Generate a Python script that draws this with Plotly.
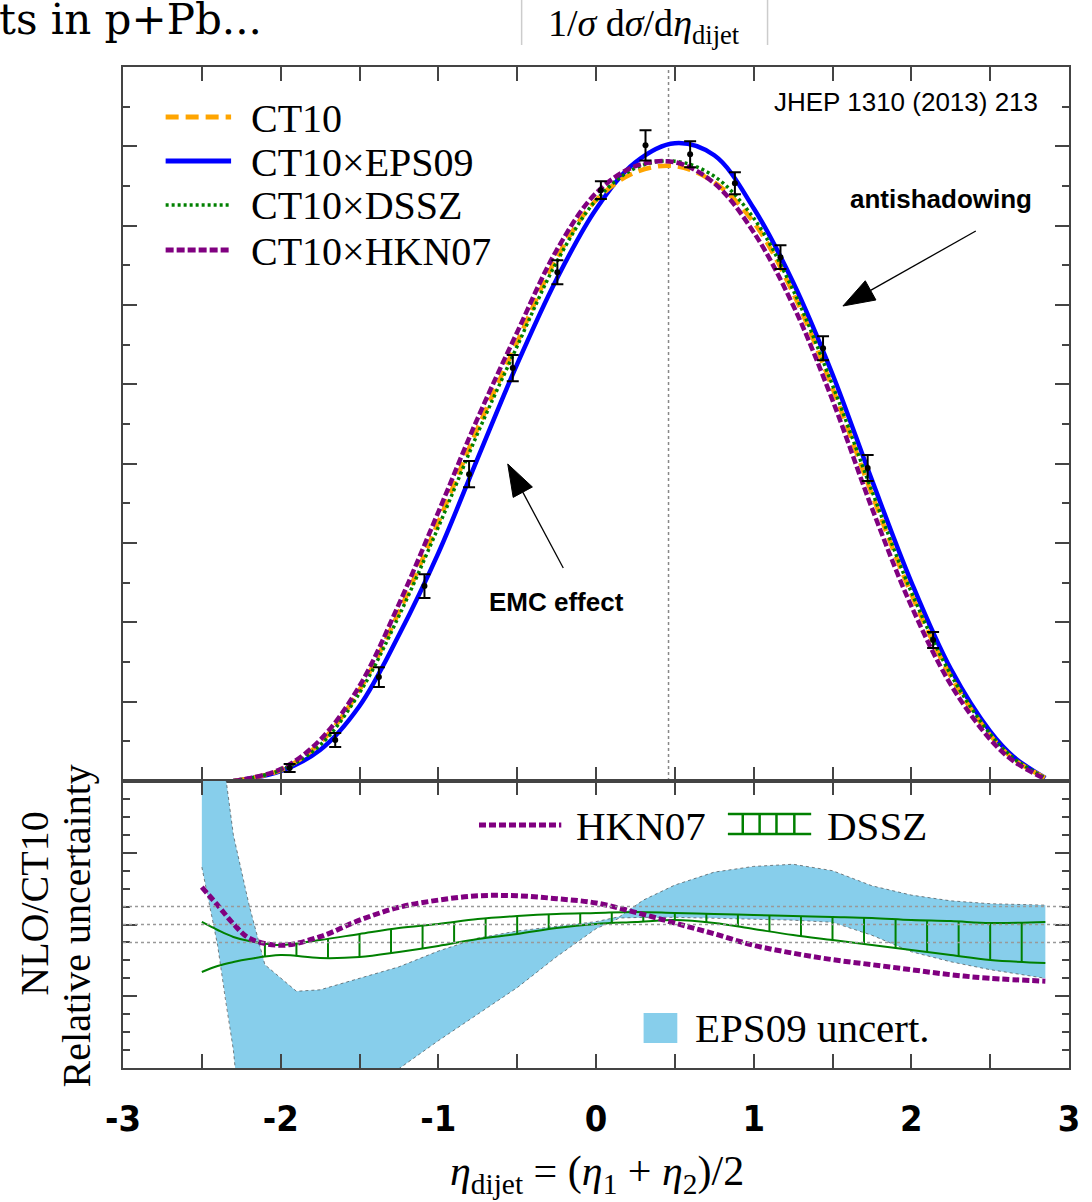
import numpy as np
import plotly.graph_objects as go

# ---------------- data ----------------
eta_grid = [-2.3, -2.0, -1.75, -1.5, -1.25, -1.0, -0.75, -0.5, -0.25, 0.0, 0.25,
            0.5, 0.75, 1.0, 1.25, 1.5, 1.75, 2.0, 2.25, 2.5, 2.65, 2.85]
ct10 = [0.0, 0.0055, 0.0192, 0.0459, 0.0852, 0.1305, 0.1779, 0.2213, 0.2636, 0.2928, 0.3069,
        0.3100, 0.3019, 0.2817, 0.2460, 0.1981, 0.1446, 0.0942, 0.0527, 0.0231, 0.0110, 0.0015]
ct10_eps09 = [0.0, 0.0050, 0.0156, 0.0378, 0.0736, 0.1149, 0.1628, 0.2102, 0.2530, 0.2883, 0.3120,
              0.3216, 0.3155, 0.2888, 0.2515, 0.2051, 0.1517, 0.1003, 0.0565, 0.0250, 0.0121, 0.0015]
ct10_dssz = [0.0, 0.0055, 0.0181, 0.0444, 0.0832, 0.1280, 0.1754, 0.2192, 0.2616, 0.2928, 0.3090,
             0.3125, 0.3049, 0.2838, 0.2475, 0.1996, 0.1462, 0.0953, 0.0537, 0.0237, 0.0114, 0.0015]
ct10_hkn07 = [0.0, 0.0060, 0.0207, 0.0479, 0.0892, 0.1356, 0.1830, 0.2263, 0.2676, 0.2964, 0.3100,
              0.3120, 0.3014, 0.2767, 0.2399, 0.1920, 0.1376, 0.0882, 0.0486, 0.0210, 0.0099, 0.0010]

data_eta = [-1.943, -1.654, -1.377, -1.088, -0.805, -0.528, -0.245, 0.031, 0.314, 0.597,
            0.881, 1.170, 1.440, 1.723, 2.138]
data_val = [0.0066, 0.0207, 0.0524, 0.0983, 0.1547, 0.2082, 0.2565, 0.2979, 0.3205, 0.3160,
            0.3014, 0.2641, 0.2182, 0.1578, 0.0711]
data_err = [0.0020, 0.0035, 0.0050, 0.0060, 0.0066, 0.0066, 0.0060, 0.0045, 0.0076, 0.0066,
            0.0055, 0.0060, 0.0060, 0.0066, 0.0040]

ratio_eta = [-2.5, -2.4, -2.3, -2.2, -2.0, -1.75, -1.5, -1.25, -1.0, -0.75, -0.5, -0.25, 0.0,
             0.25, 0.5, 0.75, 1.0, 1.25, 1.5, 1.75, 2.0, 2.25, 2.5, 2.85]
hkn07_ratio = [1.052, 1.027, 1.001, 0.981, 0.971, 0.983, 1.006, 1.024, 1.034, 1.040, 1.040, 1.036,
               1.030, 1.017, 1.002, 0.987, 0.971, 0.960, 0.951, 0.944, 0.937, 0.930, 0.925, 0.921]
dssz_upper = [1.0035, 0.9923, 0.9826, 0.9770, 0.9714, 0.9784, 0.9868, 0.9951, 1.0007, 1.0077,
              1.0118, 1.0146, 1.0160, 1.0174, 1.0160, 1.0146, 1.0132, 1.0118, 1.0105, 1.0091,
              1.0063, 1.0049, 1.0021, 1.0035]
dssz_lower = [0.9338, 0.9422, 0.9477, 0.9519, 0.9574, 0.9533, 0.9547, 0.9617, 0.9700, 0.9798,
              0.9868, 0.9951, 1.0007, 1.0035, 1.0063, 1.0021, 0.9937, 0.9854, 0.9784, 0.9714,
              0.9645, 0.9575, 0.9505, 0.9463]
dssz_hatch_eta = [round(-2.1 + 0.2 * i, 2) for i in range(25)]

eps_eta = [-2.5, -2.45, -2.4, -2.35, -2.3, -2.2, -2.1, -1.9, -1.75, -1.5, -1.25, -1.0, -0.75,
           -0.5, -0.25, 0.0, 0.15, 0.3, 0.5, 0.75, 1.0, 1.25, 1.5, 1.75, 2.0, 2.25, 2.5, 2.85]
eps_upper = [1.5, 1.5, 1.3, 1.208, 1.125, 1.027, 0.944, 0.907, 0.909, 0.925, 0.941, 0.963, 0.981,
             0.991, 0.997, 1.004, 1.011, 1.034, 1.055, 1.073, 1.081, 1.084, 1.075, 1.054, 1.041,
             1.033, 1.029, 1.027]
eps_lower = [1.080, 1.027, 0.971, 0.895, 0.825, 0.6, 0.6, 0.6, 0.6, 0.6, 0.799, 0.838, 0.875,
             0.912, 0.955, 0.994, 1.009, 1.010, 1.010, 1.009, 1.008, 1.006, 1.003, 0.985, 0.962,
             0.948, 0.937, 0.925]

ref_lines = [0.975, 1.0, 1.025]
peak_line_eta = 0.46

x_tick_vals = [-3, -2.5, -2, -1.5, -1, -0.5, 0, 0.5, 1, 1.5, 2, 2.5, 3]
x_tick_text = ["<b>-3</b>", "", "<b>-2</b>", "", "<b>-1</b>", "", "<b>0</b>", "", "<b>1</b>", "",
               "<b>2</b>", "", "<b>3</b>"]

# ---------------- layout geometry ----------------
W, H = 1092, 1202
ML, MR, MT, MB = 123, 15, 67, 134
SPLIT = 781


def pxx(px):
    return (px - ML) / (W - ML - MR)


def pxy(py):
    return (H - MB - py) / (H - MT - MB)


dom_split = pxy(SPLIT)

ORANGE = "#FFA500"
BLUE = "#0000FF"
GREEN = "#008000"
PURPLE = "#800080"
SKY = "#87CEEB"
AX = "#444444"
SERIF = "Liberation Serif, Times New Roman, serif"
SANS = "Liberation Sans, Arial, sans-serif"

DASH_CT10 = "13px,7px"
DASH_DSSZ = "3px,3px"
DASH_HKN = "8px,3px"

fig = go.Figure()

# ---------------- lower panel ----------------
fig.add_trace(go.Scatter(x=eps_eta + eps_eta[::-1], y=eps_upper + eps_lower[::-1],
                         fill="toself", fillcolor=SKY, mode="lines", line=dict(width=0),
                         xaxis="x2", yaxis="y2", hoverinfo="skip"))
for edge in (eps_upper, eps_lower):
    fig.add_trace(go.Scatter(x=eps_eta, y=edge, mode="lines",
                             line=dict(color="rgba(50,50,50,0.6)", width=1, dash="dot"),
                             xaxis="x2", yaxis="y2", hoverinfo="skip"))

for band in (dssz_upper, dssz_lower):
    fig.add_trace(go.Scatter(x=ratio_eta, y=band, mode="lines",
                             line=dict(color=GREEN, width=2, shape="spline"),
                             xaxis="x2", yaxis="y2"))
hx, hy = [], []
hu = np.interp(dssz_hatch_eta, ratio_eta, dssz_upper)
hl = np.interp(dssz_hatch_eta, ratio_eta, dssz_lower)
for e, u, l in zip(dssz_hatch_eta, hu, hl):
    hx += [e, e, None]
    hy += [l, u, None]
fig.add_trace(go.Scatter(x=hx, y=hy, mode="lines", line=dict(color=GREEN, width=2),
                         xaxis="x2", yaxis="y2", hoverinfo="skip"))

fig.add_trace(go.Scatter(x=ratio_eta, y=hkn07_ratio, mode="lines",
                         line=dict(color=PURPLE, width=5, dash="7px,3px", shape="spline"),
                         xaxis="x2", yaxis="y2"))

# ---------------- upper panel ----------------
fig.add_trace(go.Scatter(x=eta_grid, y=ct10_eps09, mode="lines",
                         line=dict(color=BLUE, width=4.5, shape="spline")))
fig.add_trace(go.Scatter(x=eta_grid, y=ct10, mode="lines",
                         line=dict(color=ORANGE, width=4.5, dash=DASH_CT10, shape="spline")))
fig.add_trace(go.Scatter(x=eta_grid, y=ct10_dssz, mode="lines",
                         line=dict(color=GREEN, width=3.5, dash=DASH_DSSZ, shape="spline")))
fig.add_trace(go.Scatter(x=eta_grid, y=ct10_hkn07, mode="lines",
                         line=dict(color=PURPLE, width=4.5, dash=DASH_HKN, shape="spline")))
fig.add_trace(go.Scatter(x=data_eta, y=data_val, mode="markers",
                         marker=dict(color="black", size=6),
                         error_y=dict(type="data", array=data_err, color="black",
                                      thickness=2, width=6)))

# ---------------- shapes ----------------
shapes = []
shapes.append(dict(type="line", xref="x", yref="y domain", x0=peak_line_eta, x1=peak_line_eta,
                   y0=0, y1=1, line=dict(color="#888888", width=1.5, dash="dot"), layer="below"))
for r in ref_lines:
    shapes.append(dict(type="line", xref="x2 domain", yref="y2", x0=0, x1=1, y0=r, y1=r,
                       line=dict(color="#999999", width=1.5, dash="dot"), layer="above"))

# top legend samples
leg_items = [("CT10", ORANGE, 5, DASH_CT10, 117),
             ("CT10×EPS09", BLUE, 5, "solid", 161),
             ("CT10×DSSZ", GREEN, 3.5, DASH_DSSZ, 205),
             ("CT10×HKN07", PURPLE, 5, DASH_HKN, 250)]
for name, col, wd, dash, py in leg_items:
    shapes.append(dict(type="line", xref="paper", yref="paper", x0=pxx(166), x1=pxx(232),
                       y0=pxy(py), y1=pxy(py), line=dict(color=col, width=wd, dash=dash)))

# lower legend samples
shapes.append(dict(type="line", xref="paper", yref="paper", x0=pxx(482), x1=pxx(565),
                   y0=pxy(825), y1=pxy(825), line=dict(color=PURPLE, width=5, dash="7px,3px")))
for py in (814, 834):
    shapes.append(dict(type="line", xref="paper", yref="paper", x0=pxx(733), x1=pxx(817),
                       y0=pxy(py), y1=pxy(py), line=dict(color=GREEN, width=2.5)))
for px in (748, 765, 782, 800):
    shapes.append(dict(type="line", xref="paper", yref="paper", x0=pxx(px), x1=pxx(px),
                       y0=pxy(814), y1=pxy(834), line=dict(color=GREEN, width=2.5)))
shapes.append(dict(type="rect", xref="paper", yref="paper", x0=pxx(648), x1=pxx(682),
                   y0=pxy(1043), y1=pxy(1013), fillcolor=SKY, line=dict(width=0)))

# grey bars around top title
for px in (525, 773):
    shapes.append(dict(type="line", xref="paper", yref="paper", x0=pxx(px), x1=pxx(px),
                       y0=pxy(0), y1=pxy(45), line=dict(color="#cccccc", width=1.5)))


def arrow(tail, tip, L=32, w=11):
    tx, ty = tail
    hx_, hy_ = tip
    dx, dy = hx_ - tx, hy_ - ty
    n = (dx * dx + dy * dy) ** 0.5
    ux, uy = dx / n, dy / n
    bx, by = hx_ - ux * L, hy_ - uy * L
    nx, ny = -uy, ux
    out = [dict(type="line", xref="paper", yref="paper", x0=pxx(tx), y0=pxy(ty),
                x1=pxx(bx), y1=pxy(by), line=dict(color="black", width=1.3))]
    pts = [(hx_, hy_), (bx + nx * w, by + ny * w), (bx - nx * w, by - ny * w)]
    path = "M {} {} L {} {} L {} {} Z".format(*[v for p in pts for v in (pxx(p[0]), pxy(p[1]))])
    out.append(dict(type="path", xref="paper", yref="paper", path=path,
                    fillcolor="black", line=dict(color="black", width=1)))
    return out


shapes += arrow((983, 231), (849, 306))
shapes += arrow((567, 568), (511, 464))

# ---------------- annotations ----------------
ann = []


def txt(text, px, py, size, family=SERIF, xanchor="left", angle=0, color="black"):
    ann.append(dict(text=text, x=pxx(px), y=pxy(py), xref="paper", yref="paper",
                    xanchor=xanchor, yanchor="middle", showarrow=False, textangle=angle,
                    font=dict(family=family, size=size, color=color)))


for name, col, wd, dash, py in leg_items:
    txt(name, 250, py + 1, 40)
txt("HKN07", 578, 826, 41)
txt("DSSZ", 831, 826, 41)
txt("EPS09 uncert.", 698, 1028, 41)
txt("JHEP 1310 (2013) 213", 1048, 102, 26, family=SANS, xanchor="right")
txt("<b>antishadowing</b>", 948, 199, 26, family=SANS, xanchor="center")
txt("<b>EMC effect</b>", 560, 602, 26, family=SANS, xanchor="center")
txt("ts in p+Pb...", -4, 20, 42, family="DejaVu Serif, serif")
txt("1/<i>σ</i> d<i>σ</i>/d<i>η</i><sub>dijet</sub>", 648, 26, 38, xanchor="center")
txt("NLO/CT10", 33, 904, 40, xanchor="center", angle=-90)
txt("Relative uncertainty", 76, 926, 40, xanchor="center", angle=-90)
txt("<i>η</i><sub>dijet</sub> = (<i>η</i><sub>1</sub> + <i>η</i><sub>2</sub>)/2", 601, 1174, 42,
    xanchor="center")

# ---------------- axes ----------------
common_x = dict(range=[-3, 3], tickmode="array", tickvals=x_tick_vals, ticks="inside",
                ticklen=14, tickwidth=1.5, tickcolor=AX, showline=True, linecolor=AX,
                linewidth=1.5, mirror="ticks", showgrid=False, zeroline=False)

fig.update_layout(
    width=W, height=H,
    margin=dict(l=ML, r=MR, t=MT, b=MB, pad=0),
    paper_bgcolor="white", plot_bgcolor="white",
    showlegend=False,
    font=dict(family=SERIF, color="black"),
    xaxis=dict(**common_x, anchor="y", domain=[0, 1], showticklabels=False, matches="x2"),
    yaxis=dict(domain=[dom_split, 1], range=[0, 0.36], tickmode="array",
               tickvals=[0.04 * i for i in range(10)], ticks="inside", ticklen=14, tickwidth=1.5,
               tickcolor=AX, showticklabels=False, showline=True, linecolor=AX, linewidth=1.5,
               mirror="ticks", showgrid=False, zeroline=False,
               minor=dict(tickvals=[0.02 + 0.04 * i for i in range(9)], ticks="inside",
                          ticklen=7, tickwidth=1.5, tickcolor=AX, showgrid=False)),
    xaxis2=dict(**common_x, anchor="y2", domain=[0, 1], ticktext=x_tick_text,
                tickfont=dict(family="Liberation Sans Narrow, DejaVu Sans Condensed, Liberation Sans",
                              size=36, color="black"),
                ticklabelstandoff=18),
    yaxis2=dict(domain=[0, dom_split], range=[0.8, 1.2], tickmode="array",
                tickvals=[0.8, 0.9, 1.0, 1.1, 1.2], ticks="inside", ticklen=14, tickwidth=1.5,
                tickcolor=AX, showticklabels=False, showline=True, linecolor=AX, linewidth=1.5,
                mirror="ticks", showgrid=False, zeroline=False,
                minor=dict(tickvals=[0.8 + 0.025 * i for i in range(17)], ticks="inside",
                           ticklen=7, tickwidth=1.5, tickcolor=AX, showgrid=False)),
    shapes=shapes,
    annotations=ann,
)

fig.write_html("out.html")
